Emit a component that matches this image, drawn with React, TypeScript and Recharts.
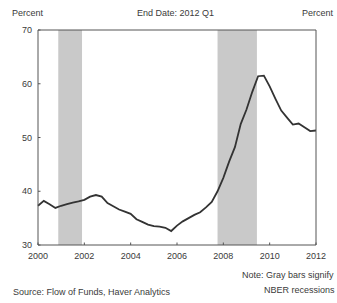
import React from "react";
import { ComposedChart, Line, XAxis, YAxis, ReferenceArea, ReferenceLine } from "recharts";

const quarters = [
  2000, 2000.25, 2000.5, 2000.75, 2001, 2001.25, 2001.5, 2001.75,
  2002, 2002.25, 2002.5, 2002.75, 2003, 2003.25, 2003.5, 2003.75,
  2004, 2004.25, 2004.5, 2004.75, 2005, 2005.25, 2005.5, 2005.75,
  2006, 2006.25, 2006.5, 2006.75, 2007, 2007.25, 2007.5, 2007.75,
  2008, 2008.25, 2008.5, 2008.75, 2009, 2009.25, 2009.5, 2009.75,
  2010, 2010.25, 2010.5, 2010.75, 2011, 2011.25, 2011.5, 2011.75,
  2012,
];

const values = [
  37.3, 38.2, 37.6, 36.9, 37.3, 37.6, 37.9, 38.1,
  38.4, 39.0, 39.3, 39.0, 37.8, 37.2, 36.6, 36.2,
  35.8, 34.8, 34.3, 33.8, 33.5, 33.4, 33.2, 32.6,
  33.6, 34.4, 35.0, 35.6, 36.1, 37.0, 38.0, 40.0,
  42.5, 45.5, 48.2, 52.5, 55.2, 58.5, 61.4, 61.5,
  59.5, 57.2, 55.0, 53.7, 52.4, 52.6, 51.9, 51.2,
  51.3,
];

const recessionStarts = [2000.875, 2007.75];
const recessionEnds = [2001.9, 2009.45];

const xTicks = [2000, 2002, 2004, 2006, 2008, 2010, 2012];
const yTicks = [30, 40, 50, 60, 70];

const data = quarters.map((q, i) => ({ q, v: values[i] }));

const FONT = "'Liberation Sans', Arial, sans-serif";
const TXT = "#3a3a3a";
const AXIS = "#555";

const textStyle: React.CSSProperties = {
  position: "absolute",
  fontFamily: FONT,
  fontSize: 9,
  color: TXT,
  whiteSpace: "nowrap",
  lineHeight: "10px",
};

const XTick = (props: any) => {
  const { x, y, payload } = props;
  return (
    <g>
      <line x1={x} x2={x} y1={y - 8} y2={y - 10.5} stroke={AXIS} strokeWidth={1} />
      <text x={x} y={y} dy="0.71em" textAnchor="middle" fill={TXT} fontSize={9} fontFamily={FONT}>
        {payload.value}
      </text>
    </g>
  );
};

const LeftTick = (props: any) => {
  const { x, y, payload } = props;
  return (
    <g>
      <line x1={x + 6} x2={x + 8.5} y1={y} y2={y} stroke={AXIS} strokeWidth={1} />
      <text x={x} y={y} dy="0.355em" textAnchor="end" fill={TXT} fontSize={9} fontFamily={FONT}>
        {payload.value}
      </text>
    </g>
  );
};

const RightTick = (props: any) => {
  const { x, y, payload } = props;
  return (
    <g>
      <line x1={x - 9} x2={x - 11.5} y1={y} y2={y} stroke={AXIS} strokeWidth={1} />
      <text x={x} y={y} dy="0.355em" textAnchor="start" fill={TXT} fontSize={9} fontFamily={FONT}>
        {payload.value}
      </text>
    </g>
  );
};

export default function App() {
  return (
    <div
      style={{
        position: "absolute",
        left: 0,
        top: 0,
        width: 337,
        height: 303,
        overflow: "hidden",
        background: "#fff",
      }}
    >
      <ComposedChart
        width={337}
        height={303}
        data={data}
        margin={{ top: 30, right: 0, left: 0, bottom: 38 }}
      >
        <XAxis
          dataKey="q"
          type="number"
          domain={[2000, 2012]}
          ticks={xTicks}
          interval={0}
          tickSize={0}
          tickMargin={8}
          height={20}
          axisLine={{ stroke: AXIS, strokeWidth: 1 }}
          tick={<XTick />}
        />
        <YAxis
          yAxisId="left"
          orientation="left"
          domain={[30, 70]}
          ticks={yTicks}
          width={38}
          tickSize={0}
          tickMargin={6}
          axisLine={{ stroke: AXIS, strokeWidth: 1 }}
          tick={<LeftTick />}
        />
        <YAxis
          yAxisId="right"
          orientation="right"
          domain={[30, 70]}
          ticks={yTicks}
          width={21}
          tickSize={0}
          tickMargin={9}
          axisLine={{ stroke: AXIS, strokeWidth: 1 }}
          tick={<RightTick />}
        />
        {recessionStarts.map((s, i) => (
          <ReferenceArea
            key={i}
            yAxisId="left"
            x1={s}
            x2={recessionEnds[i]}
            y1={30}
            y2={70}
            fill="#c9c9c9"
            fillOpacity={1}
            stroke="none"
          />
        ))}
        <ReferenceLine yAxisId="left" y={70} stroke={AXIS} strokeWidth={1} />
        <Line
          yAxisId="left"
          dataKey="v"
          type="linear"
          stroke="#333"
          strokeWidth={1.8}
          dot={false}
          isAnimationActive={false}
        />
      </ComposedChart>
      <div style={{ ...textStyle, left: 12, top: 8 }}>Percent</div>
      <div style={{ ...textStyle, left: 137, top: 8 }}>End Date: 2012 Q1</div>
      <div style={{ ...textStyle, left: 302, top: 8 }}>Percent</div>
      <div style={{ ...textStyle, left: 242, top: 270 }}>Note: Gray bars signify</div>
      <div style={{ ...textStyle, left: 264, top: 285 }}>NBER recessions</div>
      <div style={{ ...textStyle, left: 13, top: 287 }}>Source: Flow of Funds, Haver Analytics</div>
    </div>
  );
}
